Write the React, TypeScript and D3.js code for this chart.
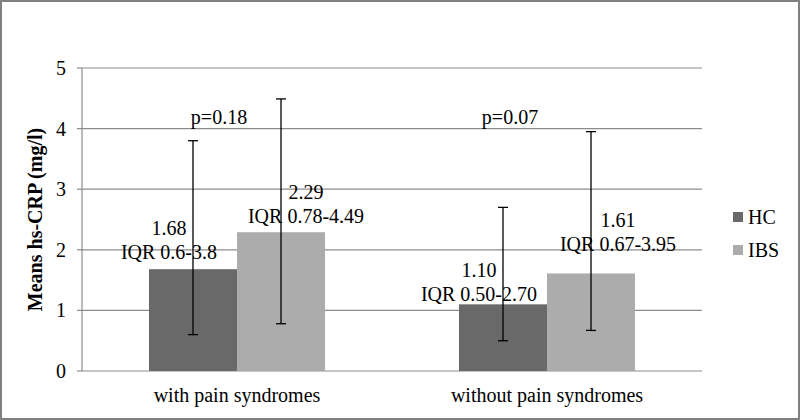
import React from "react";
import * as d3 from "d3";

const categories = ["with pain syndromes", "without pain syndromes"];
const seriesNames = ["HC", "IBS"];
const means = [
  [1.68, 2.29],
  [1.1, 1.61],
];
const iqrLow = [
  [0.6, 0.78],
  [0.5, 0.67],
];
const iqrHigh = [
  [3.8, 4.49],
  [2.7, 3.95],
];
const meanLabels = [
  ["1.68", "2.29"],
  ["1.10", "1.61"],
];
const iqrLabels = [
  ["IQR 0.6-3.8", "IQR 0.78-4.49"],
  ["IQR 0.50-2.70", "IQR 0.67-3.95"],
];
const pLabels = ["p=0.18", "p=0.07"];
const yTicks = [0, 1, 2, 3, 4, 5];

// label placement (style, pixels relative to bar center / bar top)
const labelOffsets = [
  [
    { dx: -24, dy: -41 },
    { dx: 25, dy: -40 },
  ],
  [
    { dx: -24, dy: -34 },
    { dx: 27, dy: -53 },
  ],
];
const pOffsets = [-18, -37];

const colors = ["#696969", "#acacac"];
const FONT = "'Liberation Serif', 'Times New Roman', serif";

export default function App() {
  const W = 800;
  const H = 420;
  const left = 82;
  const right = 702;
  const top = 68;
  const bottom = 371;

  const x0 = d3.scaleBand<string>().domain(categories).range([left, right]).padding(0);
  const x1 = d3
    .scaleBand<string>()
    .domain(seriesNames)
    .range([0, x0.bandwidth()])
    .paddingInner(0)
    .paddingOuter(0.761);
  const y = d3.scaleLinear().domain([0, 5]).range([bottom, top]);

  return (
    <svg
      width={W}
      height={H}
      style={{ position: "absolute", left: 0, top: 0, display: "block" }}
      fontFamily={FONT}
    >
      <rect x={0} y={0} width={W} height={H} fill="#fff" />
      <rect x={1} y={1} width={W - 2} height={H - 2} fill="none" stroke="#808080" strokeWidth={2} />

      {/* gridlines */}
      {yTicks.map((t) => (
        <g key={t}>
          <line x1={left} x2={right} y1={y(t)} y2={y(t)} stroke="#8c8c8c" strokeWidth={1.2} />
          <line x1={left - 5} x2={left} y1={y(t)} y2={y(t)} stroke="#8c8c8c" strokeWidth={1.2} />
          <text x={66} y={y(t) + 7} textAnchor="end" fontSize={20} fill="#000">
            {t}
          </text>
        </g>
      ))}
      <line x1={left} x2={left} y1={top} y2={bottom} stroke="#8c8c8c" strokeWidth={1.2} />

      {/* bars */}
      {categories.map((c, ci) =>
        seriesNames.map((s, si) => {
          const bx = (x0(c) as number) + (x1(s) as number);
          const bw = x1.bandwidth();
          return (
            <rect
              key={c + s}
              x={bx}
              y={y(means[ci][si])}
              width={bw}
              height={y(0) - y(means[ci][si])}
              fill={colors[si]}
            />
          );
        })
      )}

      {/* error bars */}
      {categories.map((c, ci) =>
        seriesNames.map((s, si) => {
          const cx = (x0(c) as number) + (x1(s) as number) + x1.bandwidth() / 2;
          const yl = y(iqrLow[ci][si]);
          const yh = y(iqrHigh[ci][si]);
          return (
            <g key={"e" + c + s} stroke="#000" strokeWidth={1.3}>
              <line x1={cx} x2={cx} y1={yl} y2={yh} />
              <line x1={cx - 5} x2={cx + 5} y1={yl} y2={yl} />
              <line x1={cx - 5} x2={cx + 5} y1={yh} y2={yh} />
            </g>
          );
        })
      )}

      {/* data labels */}
      {categories.map((c, ci) =>
        seriesNames.map((s, si) => {
          const cx = (x0(c) as number) + (x1(s) as number) + x1.bandwidth() / 2;
          const off = labelOffsets[ci][si];
          const ty = y(means[ci][si]) + off.dy;
          return (
            <g key={"l" + c + s} fontSize={20} fill="#000" textAnchor="middle">
              <text x={cx + off.dx} y={ty + 7}>
                {meanLabels[ci][si]}
              </text>
              <text x={cx + off.dx} y={ty + 31}>
                {iqrLabels[ci][si]}
              </text>
            </g>
          );
        })
      )}

      {/* p values */}
      {categories.map((c, ci) => (
        <text
          key={"p" + c}
          x={(x0(c) as number) + x0.bandwidth() / 2 + pOffsets[ci]}
          y={124}
          fontSize={20}
          textAnchor="middle"
          fill="#000"
        >
          {pLabels[ci]}
        </text>
      ))}

      {/* category labels */}
      {categories.map((c) => (
        <text
          key={"c" + c}
          x={(x0(c) as number) + x0.bandwidth() / 2}
          y={402}
          fontSize={20}
          textAnchor="middle"
          fill="#000"
        >
          {c}
        </text>
      ))}

      {/* y axis title */}
      <text
        transform={`translate(42, ${(top + bottom) / 2}) rotate(-90)`}
        textAnchor="middle"
        fontSize={20}
        fontWeight="bold"
        fill="#000"
      >
        Means hs-CRP (mg/l)
      </text>

      {/* legend */}
      {seriesNames.map((s, i) => (
        <g key={"lg" + s} transform={`translate(733, ${212 + i * 33})`}>
          <rect x={0} y={0} width={10} height={10} fill={colors[i]} />
          <text x={15} y={12} fontSize={20} fill="#000">
            {s}
          </text>
        </g>
      ))}
    </svg>
  );
}
